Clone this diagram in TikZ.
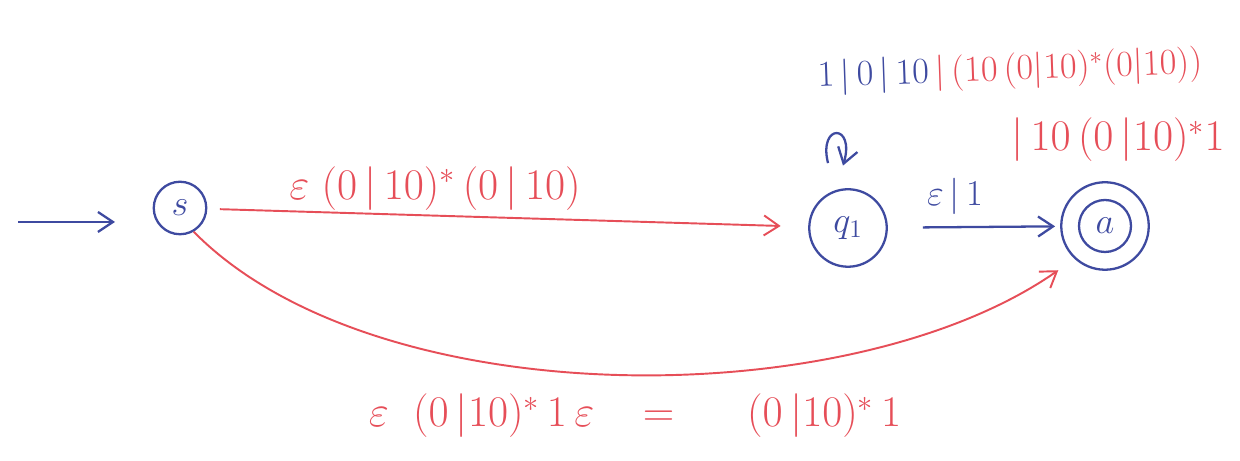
\documentclass[tikz,border=0pt]{standalone}
\usepackage{amsmath,amssymb}
\usepackage{xcolor}
\usetikzlibrary{arrows.meta, calc}

\definecolor{penblue}{RGB}{62,74,160}
\definecolor{penred}{RGB}{230,78,88}

\begin{document}
\begin{tikzpicture}[
    >={Straight Barb[length=3mm,width=4mm]},
    blueline/.style={line width=1.3pt, penblue},
    redline/.style={line width=1.1pt, penred},
    state/.style={draw=penblue, line width=1.3pt, circle, inner sep=0pt, text=penblue,
                  font=\fontsize{22}{26}\selectfont},
    hand/.style={font=\fontsize{24}{28}\selectfont}
]
    \useasboundingbox (0,0) rectangle (24.8,9.22);

    % States
    \node[state, minimum size=1.05cm] (s) at (3.6,5.06) {$s$};
    \node[state, minimum size=1.55cm] (q1) at (16.96,4.66) {$q_1$};
    \node[state, minimum size=1.75cm] (a) at (22.1,4.7) {$a$};
    \draw[blueline] (a.center) circle (0.52);

    % Start arrow
    \coordinate (start) at (0.36,4.78);
    \draw[blueline,->] (start) -- ++(1.94,0);

    % Transitions
    \draw[redline,->,shorten <=0.25cm,shorten >=0.55cm] (s) -- (q1);
    \draw[blueline,->,shorten <=0.7cm,shorten >=0.1cm] (q1) -- (a);
    \draw[redline,->] (s.-60) .. controls (7.5,0.9) and (17,0.9) .. ($(a.-135)+(-0.3,-0.25)$);

    % Self loop on q1
    \draw[blueline,->] ([shift={(-0.4,0.5)}]q1.north) .. controls +(-0.2,0.8) and +(0.25,0.85) .. ([shift={(-0.1,0.45)}]q1.north);

    % Labels
    \node[hand, text=penred] (lblSQ) at (8.7,5.45) {$\varepsilon\;(0\,|\,10)^{*}\,(0\,|\,10)$};
    \node[font=\fontsize{20}{24}\selectfont, text=penblue] (lblQA) at (19.1,5.3) {$\varepsilon\,|\,1$};
    \node[font=\fontsize{22}{26}\selectfont, rotate=2] (lblLoop) at (20.2,7.8) {$\color{penblue}1\,|\,0\,|\,10\,\color{penred}|\,(10\,(0|10)^{*}(0|10))$};
    \node[font=\fontsize{23}{27}\selectfont, text=penred] (lblLoopB) at (22.36,6.42) {$|\,10\,(0\,|10)^{*}1$};
    \node[hand, text=penred] (lblSA) at (12.7,0.9) {$\varepsilon\;\;(0\,|10)^{*}\,1\,\varepsilon\;\;\;=\;\;\;\;\;(0\,|10)^{*}\,1$};
\end{tikzpicture}
\end{document}
